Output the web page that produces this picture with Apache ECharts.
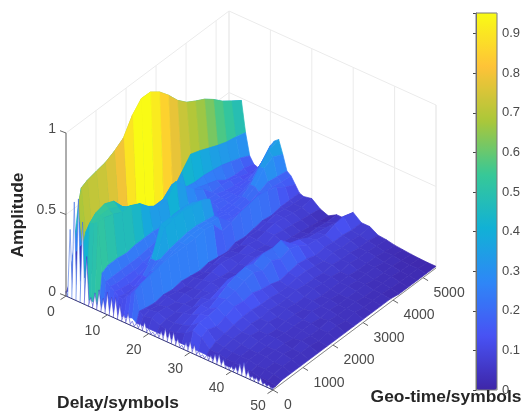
<!DOCTYPE html>
<html><head><meta charset="utf-8">
<style>html,body{margin:0;padding:0;background:#fff}#c{width:523px;height:416px}#c canvas{filter:blur(.4px)}</style>
<script src="https://cdn.jsdelivr.net/npm/echarts@6/dist/echarts.min.js"></script>
</head><body><div id="c"></div>
<script>
const delays=[0,1,2,3,4,5,6,7,8,9,10,11,12,13,14,15,16,17,18,20,22,24,26,28,30,32,34,36,38,40,42,44,46,48,50];
const geoTimes=[0,100,300,600,900,1200,1500,1800,2100,2400,2700,3000,3300,3600,3900,4200,4500,4800,5100,5430];
const amplitude=[
[.02,.02,.02,.03,.02,.03,.02,.03,.02,.03,.02,.03,.02,.03,.02,.03,.02,.02,.02,.02],
[.1,.25,.27,.3,.32,.35,.38,.42,.45,.44,.42,.38,.35,.33,.31,.29,.27,.24,.2,.15],
[.35,.45,.47,.5,.52,.55,.6,.68,.74,.72,.68,.62,.57,.52,.5,.47,.44,.42,.38,.35],
[.6,.685,.704,.718,.73,.758,.797,.896,.957,.955,.914,.853,.78,.727,.693,.663,.62,.568,.528,.485],
[.35,.42,.44,.46,.45,.40,.35,.30,.27,.25,.25,.28,.35,.42,.40,.375,.35,.33,.318,.30],
[.04,.49,.525,.54,.515,.44,.38,.33,.30,.27,.27,.28,.27,.26,.26,.25,.24,.22,.20,.17],
[.04,.5,.52,.52,.49,.45,.42,.37,.33,.33,.38,.30,.26,.24,.22,.2,.16,.15,.15,.13],
[.04,.52,.52,.5,.47,.47,.44,.38,.34,.34,.41,.34,.28,.24,.18,.18,.17,.15,.13,.12],
[.03,.22,.24,.24,.23,.24,.24,.24,.23,.22,.22,.22,.2,.19,.18,.16,.15,.14,.14,.16],
[.03,.18,.18,.18,.18,.18,.19,.2,.2,.2,.2,.2,.19,.18,.17,.16,.15,.15,.17,.22],
[.03,.16,.15,.15,.15,.16,.17,.2,.21,.22,.24,.22,.2,.18,.17,.16,.15,.16,.22,.29],
[.03,.14,.13,.12,.13,.15,.25,.33,.34,.34,.33,.3,.17,.16,.16,.16,.17,.2,.27,.33],
[.03,.12,.11,.11,.14,.2,.37,.37,.36,.36,.34,.32,.17,.16,.16,.17,.2,.27,.33,.35],
[.03,.12,.12,.13,.14,.2,.36,.38,.38,.37,.36,.33,.18,.16,.16,.17,.2,.27,.3,.27],
[.03,.14,.14,.15,.19,.22,.24,.25,.26,.26,.25,.24,.16,.15,.15,.16,.18,.2,.19,.18],
[.04,.17,.18,.19,.2,.22,.24,.25,.26,.26,.25,.24,.18,.17,.17,.18,.18,.18,.17,.16],
[.05,.2,.22,.23,.24,.25,.25,.25,.25,.26,.25,.17,.18,.2,.21,.22,.21,.19,.15,.12],
[.03,.09,.08,.07,.08,.07,.08,.07,.06,.07,.06,.05,.07,.06,.07,.08,.07,.08,.08,.08],
[.03,.07,.08,.07,.08,.07,.06,.07,.06,.07,.08,.07,.06,.08,.07,.08,.09,.08,.07,.07],
[.03,.08,.09,.08,.07,.08,.07,.08,.09,.1,.09,.08,.09,.08,.09,.1,.09,.08,.07,.08],
[.03,.06,.07,.07,.08,.07,.08,.09,.08,.07,.08,.09,.08,.07,.09,.08,.07,.06,.05,.04],
[.03,.05,.07,.09,.08,.1,.09,.08,.09,.08,.09,.1,.09,.08,.07,.06,.05,.04,.03,.02],
[.03,.06,.08,.1,.12,.11,.13,.15,.14,.15,.15,.12,.1,.09,.08,.07,.06,.06,.05,.05],
[.03,.08,.1,.13,.12,.15,.18,.2,.21,.19,.21,.2,.21,.15,.13,.1,.09,.08,.07,.05],
[.03,.12,.14,.14,.15,.16,.17,.19,.2,.17,.19,.16,.18,.16,.12,.11,.1,.12,.13,.11],
[.03,.1,.12,.1,.12,.14,.13,.14,.12,.11,.09,.1,.11,.1,.08,.09,.08,.08,.07,.07],
[.03,.05,.07,.08,.09,.1,.1,.09,.09,.08,.08,.09,.09,.08,.07,.08,.07,.07,.06,.07],
[.02,.05,.06,.07,.07,.08,.07,.08,.07,.07,.08,.07,.07,.06,.07,.06,.06,.05,.05,.04],
[.02,.04,.05,.06,.07,.06,.07,.06,.07,.06,.06,.07,.06,.06,.05,.06,.05,.05,.04,.035],
[.02,.04,.05,.05,.06,.06,.05,.06,.06,.05,.06,.05,.05,.05,.05,.04,.04,.04,.03,.025],
[.02,.03,.05,.05,.05,.06,.05,.05,.05,.06,.05,.05,.04,.05,.04,.04,.04,.03,.03,.02],
[.02,.03,.04,.05,.05,.05,.04,.05,.05,.04,.05,.04,.04,.04,.04,.03,.03,.03,.02,.015],
[.02,.02,.04,.04,.05,.04,.05,.04,.04,.05,.04,.04,.04,.03,.03,.03,.03,.02,.02,.012],
[.01,.02,.03,.04,.04,.04,.04,.03,.04,.04,.03,.04,.03,.03,.03,.02,.02,.02,.02,.01],
[.01,.01,.02,.02,.02,.02,.02,.02,.02,.02,.02,.02,.02,.02,.02,.01,.01,.01,.01,.01]
];
const frontDelays=[0,1,2,3,4,5,6,7,8,9,10,11,12,13,14,15,16,17,18,19,20,21,22,23,24,25,26,27,28,29,30,31,32,33,34,35,36,37,38,39,40,41,42,43,44,45,46,47,48,49,50];
const frontPeaks=[.03,.42,.6,.63,.5,.3,.06,.1,.13,.09,.14,.12,.13,.1,.05,.07,.03,.03,.04,.06,.03,.02,.03,.05,.08,.07,.08,.05,.02,.05,.07,.06,.03,.02,.03,.04,.06,.07,.05,.02,.03,.04,.07,.09,.05,.03,.03,.04,.02,.02,.01];
const delayTicks=[0,10,20,30,40,50];
const geoTicks=[0,1000,2000,3000,4000,5000];
const ampTicks=[0,0.5,1];
const delayMax=50, geoMax=5430, ampMax=1, colorMax=0.952;
const parula=['#3e26a8','#4852f4','#2e87f7','#11b1d6','#37c897','#abc739','#fec338','#f9fb15'];

function project(d,g,z){return [66+d*4.14+g*163/5430, 296+d*1.88-g*122/5430-z*163];}

const surfaceData=[];
for(let i=0;i<delays.length-1;i++)for(let j=geoTimes.length-2;j>=0;j--)surfaceData.push([i,j,amplitude[i][j+1]]);
const frontData=frontDelays.map((d,k)=>[d,k,frontPeaks[k]]);

const textStyle=(x,y,t,extra)=>Object.assign({x,y,text:t,fill:'#4a4a4a',font:'14px "Liberation Sans"',align:'center',verticalAlign:'middle'},extra||{});
function line(a,b,stroke,w){return {type:'line',silent:true,shape:{x1:a[0],y1:a[1],x2:b[0],y2:b[1]},style:{stroke,lineWidth:w||1}};}

function wallItems(){
  const c=[],G='#ebebeb';
  delayTicks.forEach(d=>{c.push(line(project(d,geoMax,0),project(d,geoMax,ampMax),G));c.push(line(project(d,0,0),project(d,geoMax,0),G));});
  geoTicks.forEach(g=>{c.push(line(project(0,g,0),project(0,g,ampMax),G));c.push(line(project(0,g,0),project(delayMax,g,0),G));});
  ampTicks.forEach(z=>{c.push(line(project(0,0,z),project(0,geoMax,z),G));c.push(line(project(0,geoMax,z),project(delayMax,geoMax,z),G));});
  c.push(line(project(delayMax,geoMax,0),project(delayMax,geoMax,ampMax),G));
  c.push(line(project(0,geoMax,0),project(0,geoMax,ampMax),G));
  return {type:'group',children:c};
}
function axisItems(){
  const c=[],A='#666';
  c.push(line(project(0,0,0),project(0,0,ampMax),A));
  c.push(line(project(0,0,0),project(delayMax,0,0),'#34347a'));
  c.push(line(project(delayMax,0,0),project(delayMax,geoMax,0),'#8a8a8a'));
  delayTicks.forEach(d=>{const p=project(d,0,0);c.push(line(p,[p[0]-5.5,p[1]+3.6],A));
    c.push({type:'text',silent:true,style:textStyle(p[0]-15,p[1]+16.5,String(d))});});
  geoTicks.forEach(g=>{const p=project(delayMax,g,0);c.push(line(p,[p[0]+5,p[1]+3],A));
    c.push({type:'text',silent:true,style:textStyle(p[0]+(g?26:15),p[1]+(g?15.5:15),String(g))});});
  ampTicks.forEach(z=>{const p=project(0,0,z);c.push(line(p,[p[0]-6,p[1]-2.3],A));
    c.push({type:'text',silent:true,style:textStyle(p[0]-10,p[1]-4,String(z),{align:'right'})});});
  return {type:'group',children:c};
}
function once(fn){return function(params,api){return params.dataIndex===0?fn():null;};}

const option={
  animation:false,
  grid:{left:476,top:13,width:21,height:377,show:false},
  xAxis:{type:'value',show:false},
  yAxis:{type:'value',position:'right',min:0,max:colorMax,interval:0.1,z:10,
    axisLine:{show:true,lineStyle:{color:'#666'}},
    axisTick:{show:true,inside:true,length:3,lineStyle:{color:'#444'}},
    splitLine:{show:false},
    axisLabel:{margin:7,color:'#4a4a4a',fontSize:13,fontFamily:'Liberation Sans',formatter:v=>v>0.95?'':String(+v.toFixed(1))}},
  visualMap:{type:'continuous',seriesIndex:[2],dimension:2,min:0,max:colorMax,left:476,top:13,padding:0,
    itemWidth:21,itemHeight:377,calculable:false,showLabel:false,text:null,hoverLink:false,inRange:{color:parula}},
  graphic:[
    {type:'rect',silent:true,z:20,shape:{x:476,y:13,width:21,height:377},style:{fill:'none',stroke:'#7a7a7a',lineWidth:1}},
    {type:'text',silent:true,z:30,style:{x:118,y:403,text:'Delay/symbols',fill:'#262626',font:'bold 17.4px "Liberation Sans"',align:'center',verticalAlign:'middle'}},
    {type:'text',silent:true,z:30,style:{x:446,y:397,text:'Geo-time/symbols',fill:'#262626',font:'bold 17.4px "Liberation Sans"',align:'center',verticalAlign:'middle'}},
    {type:'text',silent:true,z:30,x:18,y:215,rotation:Math.PI/2,style:{x:0,y:0,text:'Amplitude',fill:'#262626',font:'bold 17.4px "Liberation Sans"',align:'center',verticalAlign:'middle'}}
  ],
  series:[
    {type:'line',data:[],silent:true},
    {type:'custom',coordinateSystem:'none',silent:true,z:1,data:[[0]],renderItem:once(wallItems)},
    {type:'custom',coordinateSystem:'none',silent:true,z:2,progressive:0,data:surfaceData,dimensions:['row','col','amp'],
      renderItem(params,api){
        const i=api.value(0),j=api.value(1),col=api.visual('color');
        const pts=[[i,j],[i+1,j],[i+1,j+1],[i,j+1]].map(([a,b])=>project(delays[a],geoTimes[b],amplitude[a][b]));
        return {type:'polygon',silent:true,shape:{points:pts},style:{fill:col,stroke:col,lineWidth:0.7}};
      }},
    {type:'custom',coordinateSystem:'none',silent:true,z:3,progressive:0,data:frontData,dimensions:['delay','idx','amp'],
      renderItem(params,api){
        const d=api.value(0),z=api.value(2);
        const w=0.6;
        const left=project(Math.max(d-w,0),0,0),right=project(Math.min(d+w,delayMax),0,0),top=project(d,0,z);
        const col=z>0.35?'#3f6fe6':'#4040d0';
        return {type:'group',silent:true,children:[
          {type:'polygon',silent:true,shape:{points:[left,top,right]},style:{fill:'#fff'}},
          {type:'polyline',silent:true,shape:{points:[left,top,right]},style:{stroke:col,fill:'none',lineWidth:0.6}}
        ]};
      }},
    {type:'custom',coordinateSystem:'none',silent:true,z:4,data:[[0]],renderItem:once(axisItems)}
  ]
};
const chart=echarts.init(document.getElementById('c'),null,{renderer:'canvas',width:523,height:416});
chart.setOption(option);
</script></body></html>
